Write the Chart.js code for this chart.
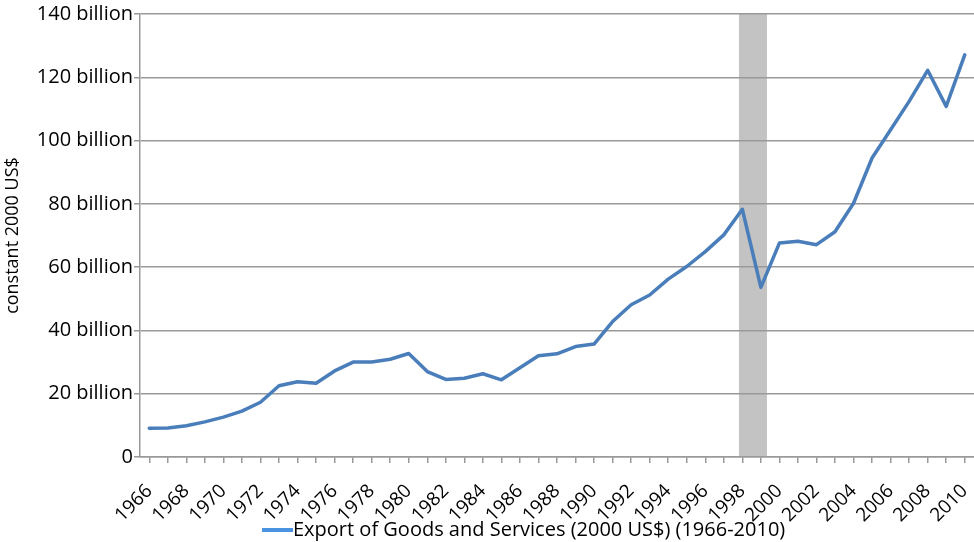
<!DOCTYPE html>
<html>
<head>
<meta charset="utf-8">
<script src="https://cdn.jsdelivr.net/npm/chart.js@4.4.1/dist/chart.umd.min.js"></script>
<style>
    html, body { margin: 0; padding: 0; background: #ffffff; }
    #wrap { width: 974px; height: 542px; }
</style>
</head>
<body>
<div id="wrap"><canvas id="exportChart" width="974" height="542"></canvas></div>
<script>
let years = ["1966", "1967", "1968", "1969", "1970", "1971", "1972", "1973", "1974", "1975",
    "1976", "1977", "1978", "1979", "1980", "1981", "1982", "1983", "1984", "1985",
    "1986", "1987", "1988", "1989", "1990", "1991", "1992", "1993", "1994", "1995",
    "1996", "1997", "1998", "1999", "2000", "2001", "2002", "2003", "2004", "2005",
    "2006", "2007", "2008", "2009", "2010"];

// export of goods and services, billions of constant 2000 US$
let exportValues = [9.1, 9.2, 9.9, 11.1, 12.6, 14.5, 17.3, 22.5, 23.8, 23.3,
    27.2, 30.0, 30.0, 30.9, 32.7, 27.0, 24.5, 24.9, 26.3, 24.4,
    28.2, 32.0, 32.6, 34.9, 35.7, 42.8, 48.1, 51.2, 56.2, 60.2,
    64.9, 70.2, 78.3, 53.6, 67.6, 68.2, 67.1, 71.2, 80.2, 94.5,
    103.4, 112.4, 122.2, 110.8, 127.1];

let yTicks = [0, 20, 40, 60, 80, 100, 120, 140];

// shaded crisis period
let shadeStart = "1998";
let shadeEnd = "1999";

let seriesLabel = "Export of Goods and Services (2000 US$) (1966-2010)";
let yTitle = "constant 2000 US$";

let lineColor = "#4a7ebb";
let legendColor = "#4a93e0";
let gridColor = "#999999";
let fontName = "'Open Sans', sans-serif";

let shadePlugin = {
    id: "shadeBand",
    beforeDraw: function(chart) {
        let xScale = chart.scales.x;
        let area = chart.chartArea;
        let step = xScale.getPixelForValue(1) - xScale.getPixelForValue(0);
        let left = xScale.getPixelForValue(years.indexOf(shadeStart)) - step * 0.18;
        let right = xScale.getPixelForValue(years.indexOf(shadeEnd)) + step * 0.33;
        let ctx = chart.ctx;
        ctx.save();
        ctx.fillStyle = "#c3c3c3";
        ctx.fillRect(left, area.top, right - left, area.bottom - area.top);
        ctx.restore();
    }
};

// legend sample sits right against its text, so it is drawn by hand
let legendPlugin = {
    id: "bottomLegend",
    afterDraw: function(chart) {
        let ctx = chart.ctx;
        let y = 530;
        ctx.save();
        ctx.strokeStyle = legendColor;
        ctx.lineWidth = 4;
        ctx.beginPath();
        ctx.moveTo(262, y);
        ctx.lineTo(293, y);
        ctx.stroke();
        ctx.fillStyle = "#000000";
        ctx.font = "20px " + fontName;
        ctx.textBaseline = "middle";
        ctx.textAlign = "left";
        ctx.fillText(seriesLabel, 293, y);
        ctx.restore();
    }
};

let exportChart = new Chart(document.getElementById("exportChart"), {
    type: "line",
    data: {
        labels: years,
        datasets: [{
            label: seriesLabel,
            data: exportValues,
            borderColor: lineColor,
            backgroundColor: lineColor,
            borderWidth: 3.5,
            borderJoinStyle: "round",
            borderCapStyle: "round",
            pointRadius: 0,
            tension: 0,
            fill: false
        }]
    },
    options: {
        responsive: false,
        animation: false,
        layout: {
            padding: { top: 14, right: 0, bottom: 10, left: 0 }
        },
        plugins: {
            tooltip: { enabled: false },
            legend: { display: false }
        },
        scales: {
            x: {
                offset: true,
                afterFit: function(scale) {
                    scale.height = 75;
                    scale.paddingLeft = 0;
                    scale.paddingRight = 0;
                },
                grid: {
                    drawOnChartArea: false,
                    drawTicks: true,
                    tickLength: 6,
                    color: gridColor,
                    lineWidth: 1.5
                },
                border: { color: gridColor, width: 1.5 },
                ticks: {
                    autoSkip: false,
                    minRotation: 45,
                    maxRotation: 45,
                    padding: 17,
                    color: "#000000",
                    font: { family: fontName, size: 19 },
                    callback: function(value, index) {
                        return index % 2 === 0 ? years[index] : "";
                    }
                }
            },
            y: {
                min: 0,
                max: 140,
                afterFit: function(scale) {
                    scale.width = 140;
                    scale.paddingTop = 0;
                    scale.paddingBottom = 0;
                },
                afterBuildTicks: function(scale) {
                    scale.ticks = yTicks.map(function(v) {
                        return { value: v };
                    });
                },
                grid: {
                    color: gridColor,
                    lineWidth: 1.5,
                    tickLength: 6
                },
                border: { color: gridColor, width: 1.5 },
                ticks: {
                    padding: 1,
                    color: "#000000",
                    font: { family: fontName, size: 20 },
                    callback: function(value) {
                        return value === 0 ? "0" : value + " billion";
                    }
                },
                title: {
                    display: true,
                    text: yTitle,
                    color: "#000000",
                    font: { family: fontName, size: 18 },
                    padding: { top: 2, bottom: 0 }
                }
            }
        }
    },
    plugins: [shadePlugin, legendPlugin]
});
</script>
</body>
</html>
